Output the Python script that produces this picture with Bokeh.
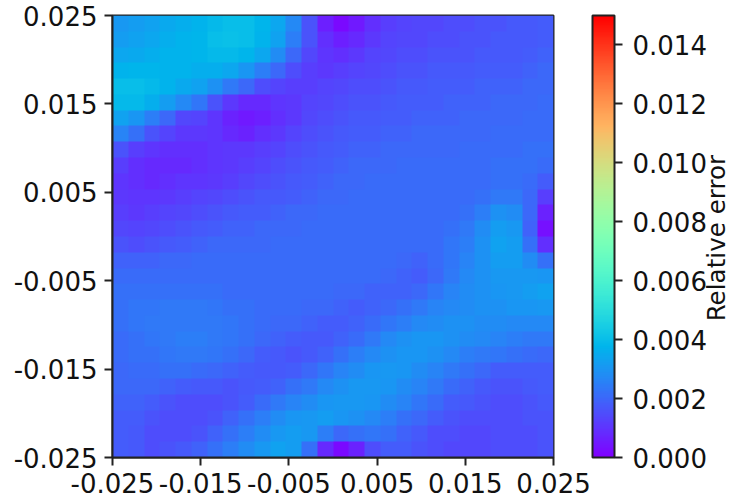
import math
import numpy as np
from bokeh.plotting import figure
from bokeh.models import LinearColorMapper, ColorBar, FixedTicker, NumeralTickFormatter, Range1d, LinearAxis
from bokeh.embed import file_html
from bokeh.resources import INLINE

x_ticks = [-0.025, -0.015, -0.005, 0.005, 0.015, 0.025]
y_ticks = [-0.025, -0.015, -0.005, 0.005, 0.015, 0.025]
cb_ticks = [0.0, 0.002, 0.004, 0.006, 0.008, 0.010, 0.012, 0.014]
v_min, v_max = 0.0, 0.015
extent = [-0.025, 0.025]
cb_title = "Relative error"

# relative error x 1e-4, rows from top (y=+0.025) to bottom
err_rows = [
    [31,32,33,35,36,37,39,40,40,38,34,27,16,6,2,5,9,12,13,14,14,15,15,16,16,17,17,18],
    [32,33,34,36,37,38,40,41,40,37,33,25,16,9,6,8,11,13,14,14,15,15,16,16,17,17,17,18],
    [34,35,36,37,37,38,39,39,38,34,28,20,14,10,9,11,13,14,15,15,16,16,16,17,17,17,18,19],
    [37,38,38,37,37,36,36,34,30,25,20,15,12,11,12,13,14,15,16,16,17,17,17,18,18,18,19,20],
    [40,40,39,37,35,33,29,24,20,15,13,12,12,13,14,15,15,16,17,17,18,18,18,19,19,19,20,20],
    [39,39,36,32,27,23,16,11,8,8,10,11,13,14,15,16,16,17,18,18,18,19,19,19,20,20,20,21],
    [33,30,25,20,14,13,10,7,5,6,9,11,14,15,16,17,17,18,18,19,19,19,20,20,20,20,21,21],
    [26,22,16,13,11,11,10,8,7,9,11,13,15,16,17,18,18,19,19,20,20,20,20,20,21,21,21,21],
    [16,12,10,9,9,9,10,11,11,12,13,15,16,17,18,19,19,20,20,20,20,20,21,21,21,21,22,22],
    [12,9,8,8,8,9,10,11,12,13,15,16,17,18,19,20,20,20,21,21,21,21,21,21,22,22,22,21],
    [10,9,8,9,10,10,11,12,14,15,16,17,18,19,20,20,21,21,21,21,21,21,21,21,22,22,21,18],
    [11,10,10,11,12,13,14,15,16,17,17,18,19,20,20,21,21,21,21,21,21,21,21,22,24,24,20,12],
    [12,11,12,13,14,15,16,17,18,18,19,20,20,21,21,21,21,21,21,21,21,21,22,25,29,28,20,7],
    [14,13,14,15,16,17,18,19,19,20,20,20,21,21,21,21,21,21,21,21,21,22,24,28,32,31,19,3],
    [16,15,16,17,18,19,20,20,20,20,21,21,21,21,21,21,21,21,21,21,21,23,25,29,33,32,22,9],
    [19,19,19,20,20,21,21,21,21,21,21,21,21,21,21,21,21,21,20,19,21,23,26,29,32,32,28,22],
    [21,21,21,21,21,21,21,21,21,21,21,21,21,21,21,21,21,20,19,18,20,24,27,29,31,31,31,30],
    [22,22,22,22,22,22,22,21,21,21,21,21,21,21,20,20,19,19,19,20,23,26,28,29,30,31,32,33],
    [22,23,23,24,24,24,23,22,22,21,21,21,20,20,19,18,19,20,22,24,26,27,28,29,29,30,30,31],
    [22,23,24,24,24,24,24,23,22,21,20,20,19,18,18,19,21,23,25,27,28,29,29,28,28,27,27,27],
    [21,22,23,24,25,25,24,23,22,20,19,18,17,17,19,21,24,27,29,30,30,29,28,27,26,25,24,24],
    [21,22,22,23,24,24,23,22,20,18,17,16,17,19,22,25,27,29,30,30,29,27,25,24,23,22,21,20],
    [20,21,21,22,22,21,20,19,18,17,17,18,20,23,26,28,30,31,30,28,26,24,22,20,18,18,18,18],
    [20,20,20,19,18,17,17,16,17,18,19,22,24,27,29,31,31,30,28,26,24,21,19,17,16,16,17,18],
    [19,19,18,16,15,15,15,16,18,21,24,26,28,30,31,31,30,28,26,23,21,18,17,16,15,15,16,17],
    [18,18,16,15,15,15,16,19,22,25,28,30,31,32,30,29,27,25,22,20,18,16,15,15,15,15,16,16],
    [18,17,15,15,15,16,19,22,25,28,31,32,31,25,20,22,23,22,19,17,15,15,14,14,15,15,15,16],
    [18,17,15,16,17,19,22,25,28,31,33,32,22,8,2,7,15,18,18,16,15,14,14,14,15,15,15,16],
]

def rainbow(t):
    r = abs(2 * t - 0.5)
    g = math.sin(math.pi * t)
    b = math.cos(math.pi * t / 2)
    return "#%02x%02x%02x" % tuple(int(round(255 * min(1, c))) for c in (r, g, b))

palette = [rainbow(i / 255) for i in range(256)]
mapper = LinearColorMapper(palette=palette, low=v_min, high=v_max)

p = figure(width=748, height=500, output_backend="svg", toolbar_location=None,
           x_range=Range1d(*extent), y_range=Range1d(*extent),
           min_border_left=112, min_border_top=15, min_border_right=195, min_border_bottom=43)
p.grid.visible = False

data = np.flipud(np.array(err_rows)) * 1e-4
p.image(image=[data], x=extent[0], y=extent[0], dw=extent[1]-extent[0], dh=extent[1]-extent[0],
        color_mapper=mapper)

p.outline_line_color = "#222222"
p.outline_line_width = 2
FS = "26px"
for ax, ticks in ((p.xaxis[0], x_ticks), (p.yaxis[0], y_ticks)):
    ax.ticker = FixedTicker(ticks=ticks)
    ax.formatter = NumeralTickFormatter(format="0.000")
    ax.major_label_text_font = "DejaVu Sans"
    ax.major_label_text_font_size = FS
    ax.major_label_text_color = "#111111"
    ax.major_tick_in = 0
    ax.major_tick_out = 8
    ax.major_tick_line_width = 2
    ax.major_tick_line_color = "#222222"
    ax.minor_tick_line_color = None
    ax.axis_line_color = "#222222"
    ax.axis_line_width = 2
    ax.major_label_standoff = 7
p.yaxis[0].major_label_orientation = "horizontal"

cb = ColorBar(color_mapper=mapper, ticker=FixedTicker(ticks=cb_ticks),
              formatter=NumeralTickFormatter(format="0.000"),
              width=22, height=442, location=(480, 0), padding=0, margin=0,
              background_fill_color=None, border_line_color=None,
              bar_line_color="#222222", bar_line_width=2,
              major_tick_in=0, major_tick_out=8, major_tick_line_color="#222222", major_tick_line_width=2,
              minor_tick_line_color=None, major_label_text_font="DejaVu Sans",
              major_label_text_font_size=FS, major_label_text_color="#111111", label_standoff=10)
p.add_layout(cb)

title_pos = -0.0096
title_axis = LinearAxis(ticker=FixedTicker(ticks=[title_pos]),
                        major_label_overrides={title_pos: cb_title},
                        major_label_orientation=math.pi / 2, major_label_standoff=163,
                        major_label_text_font="DejaVu Sans", major_label_text_font_size="24.6px",
                        major_label_text_color="#111111",
                        axis_line_color=None, major_tick_line_color=None, minor_tick_line_color=None,
                        major_tick_in=0, major_tick_out=0)
p.add_layout(title_axis, "right")

open("out.html", "w").write(file_html(p, INLINE))
